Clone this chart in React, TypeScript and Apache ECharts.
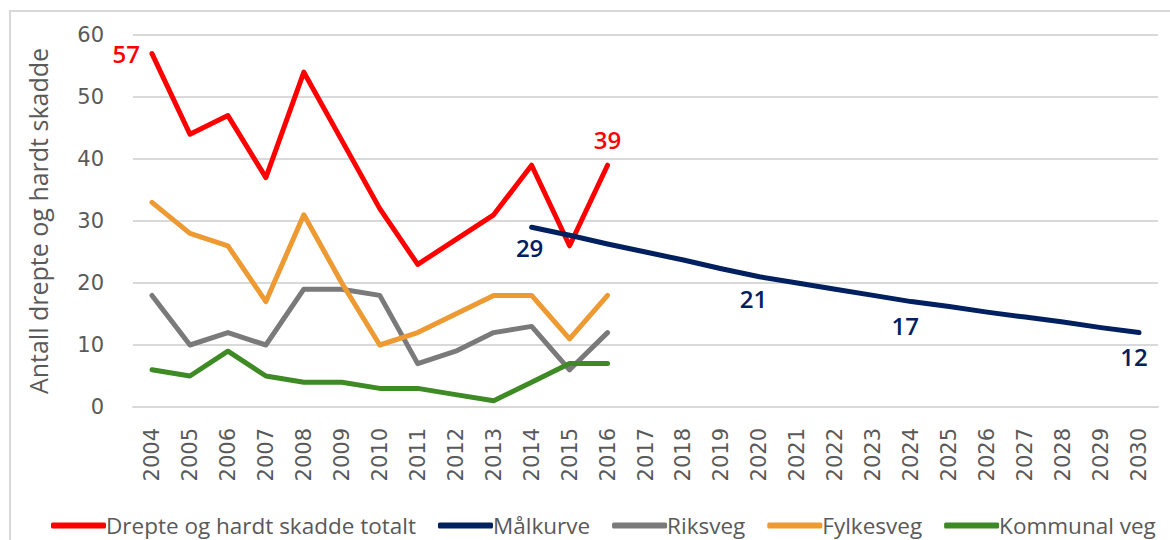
import React, { useEffect, useRef } from "react";
import * as echarts from "echarts";

const years = ["2004","2005","2006","2007","2008","2009","2010","2011","2012","2013","2014","2015","2016","2017","2018","2019","2020","2021","2022","2023","2024","2025","2026","2027","2028","2029","2030"];
const totalt = [57, 44, 47, 37, 54, 43, 32, 23, 27, 31, 39, 26, 39];
const malkurve = [null, null, null, null, null, null, null, null, null, null, 29, 27.7, 26.3, 25, 23.7, 22.3, 21, 20, 19, 18, 17, 16.2, 15.3, 14.5, 13.7, 12.8, 12];
const riksveg = [18, 10, 12, 10, 19, 19, 18, 7, 9, 12, 13, 6, 12];
const fylkesveg = [33, 28, 26, 17, 31, 20, 10, 12, 15, 18, 18, 11, 18];
const kommunal = [6, 5, 9, 5, 4, 4, 3, 3, 2, 1, 4, 7, 7];
const yTicks = [0, 10, 20, 30, 40, 50, 60];

const SANS = "'Open Sans', 'Noto Sans', sans-serif";
const TICK = "'DejaVu Sans', sans-serif";

export default function App() {
  const ref = useRef<HTMLDivElement>(null);
  useEffect(() => {
    document.body.style.margin = "0";
    const chart = echarts.init(ref.current!, null, { renderer: "svg" });
    const labelIdxTotal: Record<number, any> = {
      0: { position: "left", distance: 12 },
      12: { position: "top", distance: 14 },
    };
    const labelIdxMal: Record<number, any> = {
      10: { position: "bottom", distance: 8, offset: [-2, 0] },
      16: { position: "bottom", distance: 10, offset: [-6, 0] },
      20: { position: "bottom", distance: 12, offset: [-6, 0] },
      26: { position: "bottom", distance: 12, offset: [-5, 0] },
    };
    const mkData = (arr: (number | null)[], idx: Record<number, any>, color: string) =>
      arr.map((v, i) =>
        idx[i] && v !== null
          ? {
              value: v,
              label: {
                show: true,
                color,
                fontFamily: SANS,
                fontSize: 24,
                fontWeight: 600,
                ...idx[i],
              },
            }
          : v
      );
    const lineSeries = (name: string, data: any[], color: string) => ({
      name,
      type: "line",
      data,
      symbol: "circle",
      symbolSize: 0.1,
      showSymbol: true,
      connectNulls: false,
      lineStyle: { color, width: 5, cap: "round", join: "round" },
      itemStyle: { color },
      label: { show: false },
      emphasis: { disabled: true },
    });
    chart.setOption({
      animation: false,
      backgroundColor: "#ffffff",
      graphic: [
        {
          type: "rect",
          shape: { x: 10, y: 11, width: 1250, height: 600 },
          style: { fill: "none", stroke: "#D9D9D9", lineWidth: 2 },
          silent: true,
          z: -10,
        },
      ],
      grid: { left: 133, right: 12, top: 35, bottom: 133, containLabel: false },
      legend: {
        top: 509,
        left: 46,
        itemWidth: 55,
        itemHeight: 6,
        itemGap: 22,
        icon: "roundRect",
        textStyle: { fontFamily: SANS, fontSize: 22.5, color: "#595959", padding: [0, 0, 0, -5] },
        data: ["Drepte og hardt skadde totalt", "Målkurve", "Riksveg", "Fylkesveg", "Kommunal veg"],
      },
      xAxis: {
        type: "category",
        data: years,
        boundaryGap: true,
        axisLine: { show: true, lineStyle: { color: "#D9D9D9", width: 2 } },
        axisTick: { show: false },
        axisLabel: {
          rotate: 90,
          interval: 0,
          margin: 21,
          fontFamily: TICK,
          fontSize: 21,
          color: "#595959",
        },
      },
      yAxis: {
        type: "value",
        min: 0,
        max: 60,
        interval: 10,
        name: "Antall drepte og hardt skadde",
        nameLocation: "middle",
        nameGap: 83,
        nameTextStyle: { fontFamily: SANS, fontSize: 25, color: "#595959" },
        axisLine: { show: false },
        axisTick: { show: false },
        splitLine: { lineStyle: { color: "#D9D9D9", width: 2 } },
        axisLabel: {
          margin: 29,
          fontFamily: TICK,
          fontSize: 21,
          color: "#595959",
          formatter: (v: number) => (yTicks.includes(v) ? String(v) : ""),
        },
      },
      series: [
        lineSeries("Drepte og hardt skadde totalt", mkData(totalt, labelIdxTotal, "#FF0000"), "#FF0000"),
        lineSeries("Målkurve", mkData(malkurve, labelIdxMal, "#002060"), "#002060"),
        lineSeries("Riksveg", riksveg, "#7A7A7A"),
        lineSeries("Fylkesveg", fylkesveg, "#EE9A33"),
        lineSeries("Kommunal veg", kommunal, "#3E8A24"),
      ],
    });
    return () => chart.dispose();
  }, []);
  return <div ref={ref} style={{ width: 1170, height: 540 }} />;
}
